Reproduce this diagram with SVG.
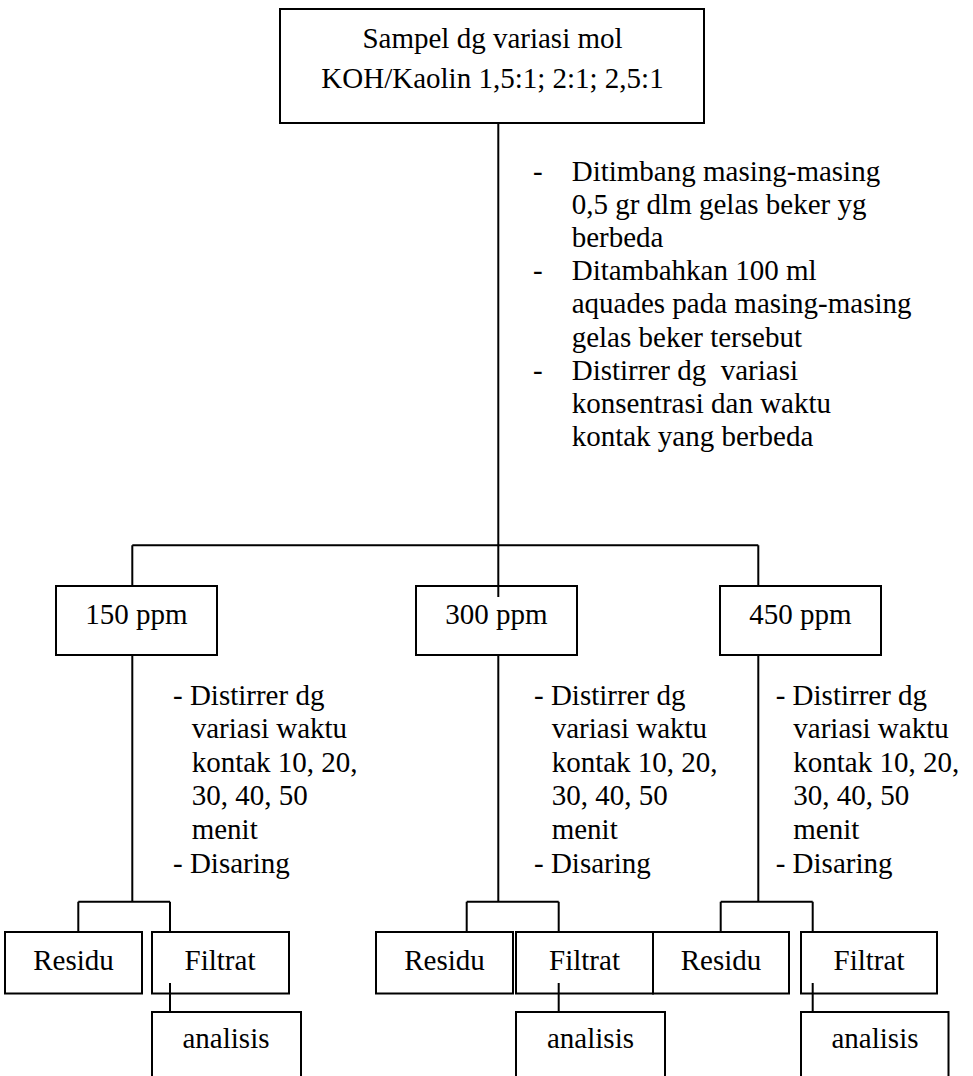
<svg xmlns="http://www.w3.org/2000/svg" width="973" height="1076" viewBox="0 0 973 1076">
<style>
.box{fill:#fff;stroke:#000;stroke-width:2}
.ln{fill:none;stroke:#000;stroke-width:2}
text{font-family:"Liberation Serif","Times New Roman",serif;font-size:29px;fill:#000}
.c{text-anchor:middle}
.pre{white-space:pre}
</style>
<rect width="973" height="1076" fill="#fff"/>
<g id="connectors">
<path class="ln" d="M498.3 123 V597 M132.3 545.3 H758.3 M132.3 545.3 V586 M758.3 545.3 V586"/>
<path class="ln" d="M132.3 655 V901.7 M78.3 901.7 H170 M78.3 901.7 V932 M170 901.7 V932"/>
<path class="ln" d="M498.3 655 V901.7 M466.7 901.7 H558.7 M466.7 901.7 V932 M558.7 901.7 V932"/>
<path class="ln" d="M758.3 655 V901.7 M720.7 901.7 H812.7 M720.7 901.7 V932 M812.7 901.7 V932"/>
</g>
<g id="n-sampel">
<rect class="box" x="280" y="9" width="424" height="114"/>
<text class="c" x="492.5" y="48">Sampel dg variasi mol</text>
<text class="c" x="492.5" y="88">KOH/Kaolin 1,5:1; 2:1; 2,5:1</text>
</g>
<g id="n-150"><rect class="box" x="56" y="586" width="161" height="69"/><text class="c" x="136.5" y="624">150 ppm</text></g>
<g id="n-300"><rect class="box" x="416" y="586" width="161" height="69"/><text class="c" x="496.5" y="624">300 ppm</text></g>
<g id="n-450"><rect class="box" x="720" y="586" width="161" height="69"/><text class="c" x="800.5" y="624">450 ppm</text></g>
<path class="ln" d="M498.3 586 V597"/>
<g id="n-residu1"><rect class="box" x="5" y="932" width="137" height="61.5"/><text class="c" x="73.5" y="970">Residu</text></g>
<g id="n-filtrat1"><rect class="box" x="152" y="932" width="137" height="61.5"/><text class="c" x="220" y="970">Filtrat</text></g>
<g id="n-analisis1"><rect class="box" x="152" y="1012" width="149" height="80"/><text class="c" x="226" y="1048">analisis</text></g>
<g id="n-residu2"><rect class="box" x="376" y="932" width="137" height="61.5"/><text class="c" x="444.5" y="970">Residu</text></g>
<g id="n-filtrat2"><rect class="box" x="516" y="932" width="137" height="61.5"/><text class="c" x="584.5" y="970">Filtrat</text></g>
<g id="n-analisis2"><rect class="box" x="516" y="1012" width="149" height="80"/><text class="c" x="590.5" y="1048">analisis</text></g>
<g id="n-residu3"><rect class="box" x="653" y="932" width="136" height="61.5"/><text class="c" x="721" y="970">Residu</text></g>
<g id="n-filtrat3"><rect class="box" x="801" y="932" width="136" height="61.5"/><text class="c" x="869" y="970">Filtrat</text></g>
<g id="n-analisis3"><rect class="box" x="801" y="1012" width="147.5" height="80"/><text class="c" x="875" y="1048">analisis</text></g>
<g id="filtrat-links">
<path class="ln" d="M170 983 V1012 M558.7 983 V1012 M812.7 983 V1012"/>
</g>
<g id="labels">
<text x="533" y="180.7">-</text><text x="571.7" y="180.7">Ditimbang masing-masing</text>
<text x="571.7" y="213.9">0,5 gr dlm gelas beker yg</text>
<text x="571.7" y="247">berbeda</text>
<text x="533" y="280.2">-</text><text x="571.7" y="280.2">Ditambahkan 100 ml</text>
<text x="571.7" y="313.4">aquades pada masing-masing</text>
<text x="571.7" y="346.6">gelas beker tersebut</text>
<text x="533" y="379.8">-</text><text class="pre" x="571.7" y="379.8">Distirrer dg  variasi</text>
<text x="571.7" y="413">konsentrasi dan waktu</text>
<text x="571.7" y="446.2">kontak yang berbeda</text>

<text x="173" y="704.5">- Distirrer dg</text>
<text x="191.7" y="738">variasi waktu</text>
<text x="191.7" y="771.7">kontak 10, 20,</text>
<text x="191.7" y="805">30, 40, 50</text>
<text x="191.7" y="839.3">menit</text>
<text x="173" y="872.7">- Disaring</text>

<text x="534" y="704.5">- Distirrer dg</text>
<text x="551.7" y="738">variasi waktu</text>
<text x="551.7" y="771.7">kontak 10, 20,</text>
<text x="551.7" y="805">30, 40, 50</text>
<text x="551.7" y="839.3">menit</text>
<text x="534" y="872.7">- Disaring</text>

<text x="775.7" y="704.5">- Distirrer dg</text>
<text x="793.3" y="738">variasi waktu</text>
<text x="793.3" y="771.7">kontak 10, 20,</text>
<text x="793.3" y="805">30, 40, 50</text>
<text x="793.3" y="839.3">menit</text>
<text x="775.7" y="872.7">- Disaring</text>
</g>
</svg>
